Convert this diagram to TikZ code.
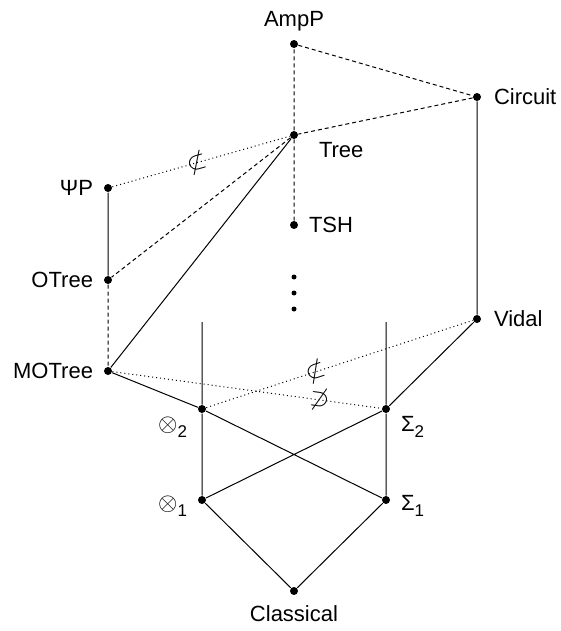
\documentclass[tikz,border=0pt]{standalone}
\usepackage{fontspec}
\setmainfont{Liberation Sans}
\newcommand{\lowsub}[1]{\raisebox{-6pt}{\fontsize{17}{20}\selectfont #1}}
\newcommand{\tens}{{\fontsize{25}{26}\selectfont$\otimes$}}

\begin{document}
\begin{tikzpicture}[x = 1pt, y = -1pt, line width = 1pt,
    every node/.style = {font = \fontsize{22}{26}\selectfont},
    pt/.style = {shape = circle, fill, inner sep = 0pt, minimum size = 8pt},
    every label/.style = {inner sep = 2pt, label distance = 6pt},
    dsh/.style = {dash pattern = on 4pt off 3pt},
    dts/.style = {dash pattern = on 1pt off 3pt},
    mk/.style = {sloped, inner sep = 0pt, font = \fontsize{26}{28}\selectfont}]
    \path[use as bounding box] (0,0) rectangle (561,631);
    % points of the lattice
    \node[pt, label = above:AmpP] (amp) at (294,44) {};
    \node[pt, label = {[label distance = 10pt]right:Circuit}] (circ) at (477,97) {};
    \node[pt, label = {[anchor = north west, label distance = 18pt, yshift = -5pt]0:Tree}] (tree) at (294,135) {};
    \node[pt, label = {[label distance = 8pt]left:ΨP}] (psi) at (108,188) {};
    \node[pt, label = {[label distance = 8pt]right:TSH}] (tsh) at (294,225) {};
    \node[pt, label = {[label distance = 8pt]left:OTree}] (otree) at (108,280) {};
    \node[pt, label = {[label distance = 10pt]right:Vidal}] (vidal) at (477,319) {};
    \node[pt, label = {[label distance = 8pt]left:MOTree}] (motree) at (108,371) {};
    \node[pt, label = {[anchor = north east, label distance = 8pt, yshift = -5pt]180:\tens\lowsub{2}}] (ot2) at (202,409) {};
    \node[pt, label = {[anchor = north west, label distance = 8pt, yshift = -5pt]0:Σ\lowsub{2}}] (sg2) at (386,409) {};
    \node[pt, label = {[label distance = 8pt, yshift = -6pt]left:\tens\lowsub{1}}] (ot1) at (202,500) {};
    \node[pt, label = {[label distance = 8pt, yshift = -6pt]right:Σ\lowsub{1}}] (sg1) at (386,500) {};
    \node[pt, label = {[label distance = 8pt]below:Classical}] (cl) at (294,591) {};
    \coordinate (ot2up) at (202,322);
    \coordinate (sg2up) at (386,322);
    \foreach \y in {277, 293, 309}
        \fill (294,\y) circle (2.5);
    % solid lines
    \draw (circ) -- (vidal) (psi) -- (otree) (tree) -- (motree)
        (motree) -- (ot2) -- (sg1) (vidal) -- (sg2) -- (ot1)
        (ot2up) -- (ot2) -- (ot1) -- (cl) -- (sg1) -- (sg2) -- (sg2up);
    % dashed lines
    \draw[dsh] (amp) -- (circ) -- (tree) -- (amp)
        (tree) -- (tsh) (tree) -- (otree) -- (motree);
    % dotted lines
    \draw[dts] (psi) -- node[mk, pos = 0.48] {$\not\subset$} (tree);
    \draw[dts] (ot2) -- node[mk, pos = 0.41] {$\not\subset$} (vidal);
    \draw[dts] (motree) -- node[mk, pos = 0.77] {$\not\supset$} (sg2);
\end{tikzpicture}
\end{document}
